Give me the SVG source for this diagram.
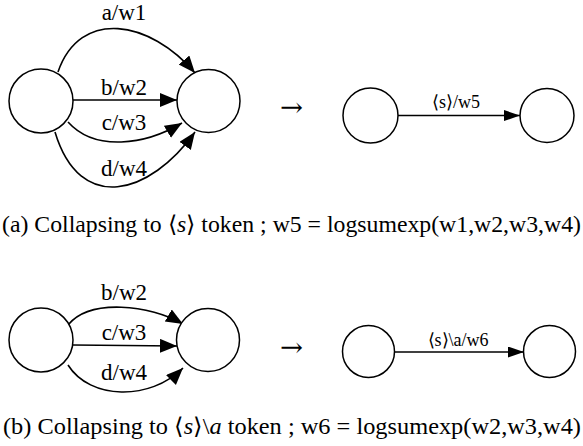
<svg xmlns="http://www.w3.org/2000/svg" width="583" height="446" viewBox="0 0 583 446">
<style>
.node{fill:#fff;stroke:#000;stroke-width:1.5}
.edge{fill:none;stroke:#000;stroke-width:1.6}
.lbl{font-size:23px;text-anchor:middle}
.lbl2{font-size:18px;text-anchor:middle}
.cap{font-size:23px}
.arr{font-size:26px}
.it{font-style:italic}
</style>
<defs>
<marker id="ab" markerUnits="userSpaceOnUse" markerWidth="20" markerHeight="16" refX="17" refY="7" orient="auto">
<path d="M0,0 L17,7 L0,14 Z" fill="#000"/>
</marker>
<marker id="as" markerUnits="userSpaceOnUse" markerWidth="20" markerHeight="14" refX="16" refY="5.5" orient="auto">
<path d="M0,0 L16,5.5 L0,11 Z" fill="#000"/>
</marker>
</defs>

<g id="connectors">
<path class="edge" d="M58,72 C80,8 150,20 195,73" marker-end="url(#ab)"/>
<path class="edge" d="M73,100 L177,100" marker-end="url(#ab)"/>
<path class="edge" d="M68,122 C95,152 145,145 182,123" marker-end="url(#ab)"/>
<path class="edge" d="M55,132 C80,215 150,195 195,132" marker-end="url(#ab)"/>
<path class="edge" d="M398,115.5 L520,115.5" marker-end="url(#as)"/>
<path class="edge" d="M68,325 C90,298 150,305 183,324" marker-end="url(#ab)"/>
<path class="edge" d="M73,345 L177,346" marker-end="url(#ab)"/>
<path class="edge" d="M68,365 C90,400 150,401 183,368" marker-end="url(#ab)"/>
<path class="edge" d="M394,352 L524,352" marker-end="url(#as)"/>
</g>

<g id="edge-labels">
<text class="lbl" x="124" y="20" font-family="Liberation Serif, serif">a/w1</text>
<text class="lbl" x="124" y="95" font-family="Liberation Serif, serif">b/w2</text>
<text class="lbl" x="124" y="130" font-family="Liberation Serif, serif">c/w3</text>
<text class="lbl" x="124" y="176" font-family="Liberation Serif, serif">d/w4</text>
<text class="lbl2" x="456" y="108" font-family="Liberation Serif, serif">⟨s⟩/w5</text>
<text class="lbl" x="124" y="300" font-family="Liberation Serif, serif">b/w2</text>
<text class="lbl" x="124" y="340" font-family="Liberation Serif, serif">c/w3</text>
<text class="lbl" x="124" y="380" font-family="Liberation Serif, serif">d/w4</text>
<text class="lbl2" x="458" y="346" font-family="Liberation Serif, serif">⟨s⟩\a/w6</text>
</g>

<g id="a-src"><circle class="node" cx="41" cy="101" r="32"/></g>
<g id="a-dst"><circle class="node" cx="208.5" cy="101" r="31.5"/></g>
<g id="a-col-src"><circle class="node" cx="370.5" cy="115.5" r="27.5"/></g>
<g id="a-col-dst"><circle class="node" cx="547" cy="115.5" r="27"/></g>
<g id="b-src"><circle class="node" cx="41" cy="340" r="32"/></g>
<g id="b-dst"><circle class="node" cx="208" cy="340" r="31.5"/></g>
<g id="b-col-src"><circle class="node" cx="368.5" cy="351.5" r="26"/></g>
<g id="b-col-dst"><circle class="node" cx="549.5" cy="351.5" r="26"/></g>

<g id="arrows">
<text class="arr" x="280" y="116" textLength="23" lengthAdjust="spacingAndGlyphs" font-family="DejaVu Serif, serif">→</text>
<text class="arr" x="280" y="356" textLength="23" lengthAdjust="spacingAndGlyphs" font-family="DejaVu Serif, serif">→</text>
</g>

<g id="captions">
<text class="cap" x="2" y="232" textLength="579" lengthAdjust="spacingAndGlyphs" font-family="Liberation Serif, serif">(a) Collapsing to ⟨<tspan class="it">s</tspan>⟩ token ; w5 = logsumexp(w1,w2,w3,w4)</text>
<text class="cap" x="3" y="434" textLength="578" lengthAdjust="spacingAndGlyphs" font-family="Liberation Serif, serif">(b) Collapsing to ⟨<tspan class="it">s</tspan>⟩\<tspan class="it">a</tspan> token ; w6 = logsumexp(w2,w3,w4)</text>
</g>
</svg>
